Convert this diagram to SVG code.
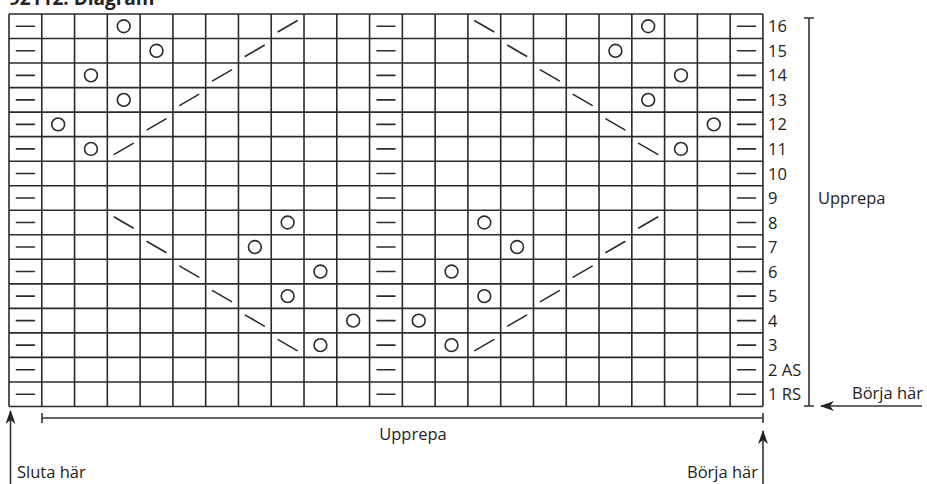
<svg xmlns="http://www.w3.org/2000/svg" xmlns:xlink="http://www.w3.org/1999/xlink" width="927" height="484" viewBox="0 0 927 484">
<style>
.g{fill:none;stroke:#2b2b2b;stroke-width:1.6}
.s{fill:none;stroke:#2b2b2b;stroke-width:1.6;stroke-linecap:round}
.t{font-family:"Open Sans","DejaVu Sans",sans-serif;font-size:16.5px;fill:#222}
.h{font-family:"Open Sans","DejaVu Sans",sans-serif;font-size:19px;font-weight:bold;fill:#222}
.c{fill:none;stroke:#333;stroke-width:1.6}
</style>
<defs>
<line id="p" x1="-9" y1="0" x2="9" y2="0" class="s"/>
<circle id="o" cx="0" cy="0" r="6.4" class="s"/>
<line id="r" x1="-9.5" y1="5.5" x2="9.5" y2="-5.5" class="s"/>
<line id="l" x1="-9.5" y1="-5.5" x2="9.5" y2="5.5" class="s"/>
<marker id="ah" viewBox="0 0 14 10" refX="13" refY="5" markerWidth="14" markerHeight="10" markerUnits="userSpaceOnUse" orient="auto">
<path d="M0,0 L14,5 L0,10 L4,5 Z" fill="#222"/>
</marker>
</defs>
<text id="title" class="h" x="9" y="5">92112: Diagram</text>
<g id="grid">
<path class="g" d="M9,14V406.5M41.78,14V406.5M74.56,14V406.5M107.34,14V406.5M140.12,14V406.5M172.9,14V406.5M205.68,14V406.5M238.46,14V406.5M271.24,14V406.5M304.02,14V406.5M336.8,14V406.5M369.58,14V406.5M402.36,14V406.5M435.14,14V406.5M467.92,14V406.5M500.7,14V406.5M533.48,14V406.5M566.26,14V406.5M599.04,14V406.5M631.82,14V406.5M664.6,14V406.5M697.38,14V406.5M730.16,14V406.5M762.94,14V406.5"/>
<path class="g" d="M9,14H763M9,38.53H763M9,63.06H763M9,87.59H763M9,112.12H763M9,136.65H763M9,161.18H763M9,185.71H763M9,210.24H763M9,234.77H763M9,259.3H763M9,283.83H763M9,308.36H763M9,332.89H763M9,357.42H763M9,381.95H763M9,406.48H763"/>
</g>
<g id="purl">
<use href="#p" x="25.39" y="26.27"/><use href="#p" x="385.97" y="26.27"/><use href="#p" x="746.55" y="26.27"/>
<use href="#p" x="25.39" y="50.8"/><use href="#p" x="385.97" y="50.8"/><use href="#p" x="746.55" y="50.8"/>
<use href="#p" x="25.39" y="75.33"/><use href="#p" x="385.97" y="75.33"/><use href="#p" x="746.55" y="75.33"/>
<use href="#p" x="25.39" y="99.86"/><use href="#p" x="385.97" y="99.86"/><use href="#p" x="746.55" y="99.86"/>
<use href="#p" x="25.39" y="124.39"/><use href="#p" x="385.97" y="124.39"/><use href="#p" x="746.55" y="124.39"/>
<use href="#p" x="25.39" y="148.92"/><use href="#p" x="385.97" y="148.92"/><use href="#p" x="746.55" y="148.92"/>
<use href="#p" x="25.39" y="173.45"/><use href="#p" x="385.97" y="173.45"/><use href="#p" x="746.55" y="173.45"/>
<use href="#p" x="25.39" y="197.98"/><use href="#p" x="385.97" y="197.98"/><use href="#p" x="746.55" y="197.98"/>
<use href="#p" x="25.39" y="222.51"/><use href="#p" x="385.97" y="222.51"/><use href="#p" x="746.55" y="222.51"/>
<use href="#p" x="25.39" y="247.04"/><use href="#p" x="385.97" y="247.04"/><use href="#p" x="746.55" y="247.04"/>
<use href="#p" x="25.39" y="271.57"/><use href="#p" x="385.97" y="271.57"/><use href="#p" x="746.55" y="271.57"/>
<use href="#p" x="25.39" y="296.1"/><use href="#p" x="385.97" y="296.1"/><use href="#p" x="746.55" y="296.1"/>
<use href="#p" x="25.39" y="320.63"/><use href="#p" x="385.97" y="320.63"/><use href="#p" x="746.55" y="320.63"/>
<use href="#p" x="25.39" y="345.16"/><use href="#p" x="385.97" y="345.16"/><use href="#p" x="746.55" y="345.16"/>
<use href="#p" x="25.39" y="369.69"/><use href="#p" x="385.97" y="369.69"/><use href="#p" x="746.55" y="369.69"/>
<use href="#p" x="25.39" y="394.22"/><use href="#p" x="385.97" y="394.22"/><use href="#p" x="746.55" y="394.22"/>
</g>
<g id="stitches">
<use href="#o" x="123.73" y="26.27"/><use href="#r" x="287.63" y="26.27"/><use href="#l" x="484.31" y="26.27"/><use href="#o" x="648.21" y="26.27"/>
<use href="#o" x="156.51" y="50.8"/><use href="#r" x="254.85" y="50.8"/><use href="#l" x="517.09" y="50.8"/><use href="#o" x="615.43" y="50.8"/>
<use href="#o" x="90.95" y="75.33"/><use href="#r" x="222.07" y="75.33"/><use href="#l" x="549.87" y="75.33"/><use href="#o" x="680.99" y="75.33"/>
<use href="#o" x="123.73" y="99.86"/><use href="#r" x="189.29" y="99.86"/><use href="#l" x="582.65" y="99.86"/><use href="#o" x="648.21" y="99.86"/>
<use href="#o" x="58.17" y="124.39"/><use href="#r" x="156.51" y="124.39"/><use href="#l" x="615.43" y="124.39"/><use href="#o" x="713.77" y="124.39"/>
<use href="#o" x="90.95" y="148.92"/><use href="#r" x="123.73" y="148.92"/><use href="#l" x="648.21" y="148.92"/><use href="#o" x="680.99" y="148.92"/>
<use href="#l" x="123.73" y="222.51"/><use href="#o" x="287.63" y="222.51"/><use href="#o" x="484.31" y="222.51"/><use href="#r" x="648.21" y="222.51"/>
<use href="#l" x="156.51" y="247.04"/><use href="#o" x="254.85" y="247.04"/><use href="#o" x="517.09" y="247.04"/><use href="#r" x="615.43" y="247.04"/>
<use href="#l" x="189.29" y="271.57"/><use href="#o" x="320.41" y="271.57"/><use href="#o" x="451.53" y="271.57"/><use href="#r" x="582.65" y="271.57"/>
<use href="#l" x="222.07" y="296.1"/><use href="#o" x="287.63" y="296.1"/><use href="#o" x="484.31" y="296.1"/><use href="#r" x="549.87" y="296.1"/>
<use href="#l" x="254.85" y="320.63"/><use href="#o" x="353.19" y="320.63"/><use href="#o" x="418.75" y="320.63"/><use href="#r" x="517.09" y="320.63"/>
<use href="#l" x="287.63" y="345.16"/><use href="#o" x="320.41" y="345.16"/><use href="#o" x="451.53" y="345.16"/><use href="#r" x="484.31" y="345.16"/>
</g>
<g id="row-labels" class="t">
<text x="768" y="32.3">16</text>
<text x="768" y="56.8">15</text>
<text x="768" y="81.3">14</text>
<text x="768" y="105.9">13</text>
<text x="768" y="130.4">12</text>
<text x="768" y="154.9">11</text>
<text x="768" y="179.5">10</text>
<text x="768" y="204">9</text>
<text x="768" y="228.5">8</text>
<text x="768" y="253">7</text>
<text x="768" y="277.6">6</text>
<text x="768" y="302.1">5</text>
<text x="768" y="326.6">4</text>
<text x="768" y="351.2">3</text>
<text x="768" y="375.7">2 AS</text>
<text x="768" y="400.2">1 RS</text>
</g>
<g id="repeat-vertical">
<path class="c" d="M809,18V406M804,18H814M804,406H814"/>
<text class="t" x="818" y="204">Upprepa</text>
</g>
<g id="repeat-horizontal">
<path class="c" d="M42,418H763M42,413V423M763,413V423"/>
<text class="t" x="413" y="440" text-anchor="middle">Upprepa</text>
</g>
<g id="connectors">
<line class="c" x1="922" y1="406" x2="821" y2="406" marker-end="url(#ah)"/>
<line class="c" x1="10.5" y1="484" x2="10.5" y2="411" marker-end="url(#ah)"/>
<line class="c" x1="763" y1="484" x2="763" y2="431" marker-end="url(#ah)"/>
</g>
<g id="start-right"><text class="t" x="852" y="399">Börja här</text></g>
<g id="end-left"><text class="t" x="17" y="478">Sluta här</text></g>
<g id="start-bottom"><text class="t" x="758" y="478" text-anchor="end">Börja här</text></g>
</svg>
